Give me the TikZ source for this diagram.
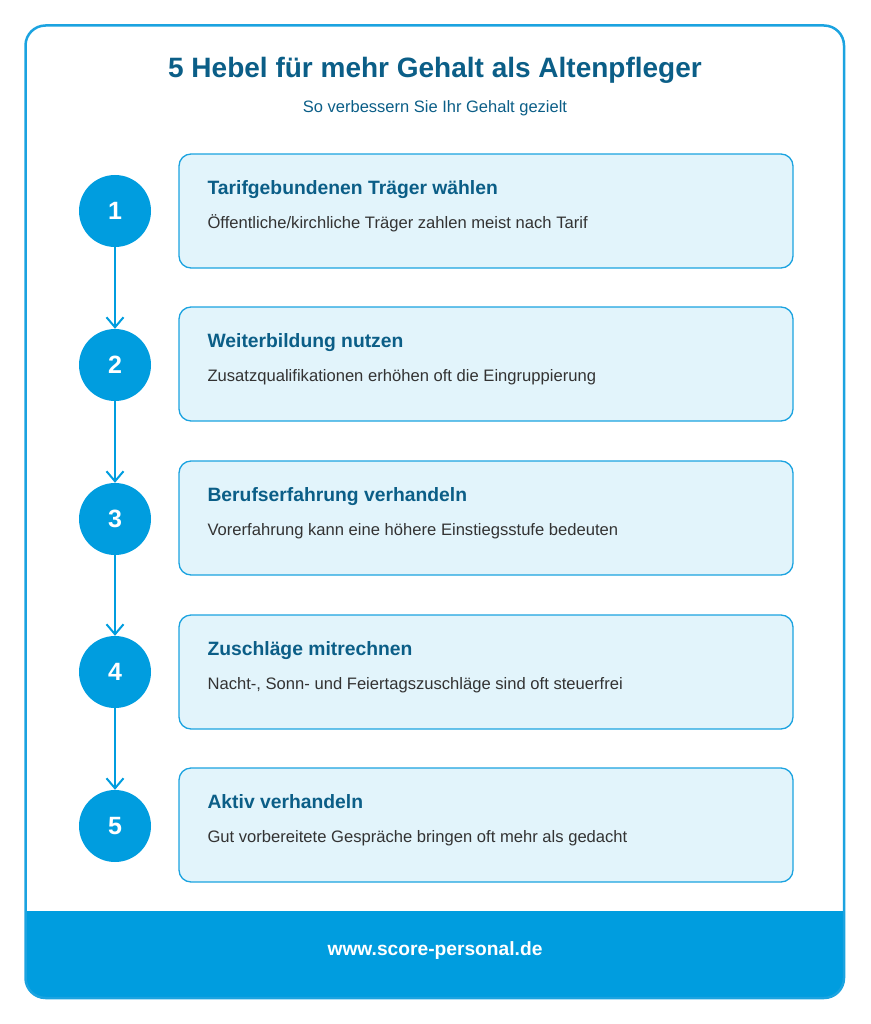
\documentclass[tikz,border=0pt]{standalone}
\usepackage{fontspec}
\setmainfont{Liberation Sans}
\usetikzlibrary{arrows.meta}

\definecolor{framecol}{HTML}{1BA3E0}
\definecolor{circcol}{HTML}{009DDF}
\definecolor{titlecol}{HTML}{0B5E87}
\definecolor{boxfill}{HTML}{E2F4FB}
\definecolor{desccol}{HTML}{333333}

\tikzset{
  numcirc/.style={circle, fill=circcol, minimum size=72pt, inner sep=0pt,
    text=white, font=\fontsize{25}{29}\selectfont\bfseries},
  levbox/.style={draw=framecol, line width=1.3pt, fill=boxfill, rounded corners=12pt,
    minimum width=614pt, minimum height=114pt, inner sep=0pt},
  levtitle/.style={anchor=base west, inner sep=0pt, text=titlecol,
    font=\fontsize{19.3}{23}\selectfont\bfseries},
  levdesc/.style={anchor=base west, inner sep=0pt, text=desccol,
    font=\fontsize{16.6}{20}\selectfont},
  steparrow/.style={draw=circcol, line width=2pt, -{Straight Barb[length=10pt,width=17pt]}}
}

\begin{document}
\begin{tikzpicture}[x=1pt, y=-1pt]
   \useasboundingbox (0,0) rectangle (870,1024);

   % footer band, cut from the frame shape
   \begin{scope}
     \clip (0,911) rectangle (870,1024);
     \fill[circcol, rounded corners=20pt] (25.5,25.5) rectangle (844,998);
   \end{scope}
   \draw[framecol, line width=2.5pt, rounded corners=20pt] (25.5,25.5) rectangle (844,998);

   \node[anchor=base, inner sep=0pt, text=titlecol, font=\fontsize{28}{32}\selectfont\bfseries] (title) at (435,77.5)
     {5 Hebel für mehr Gehalt als Altenpfleger};
   \node[anchor=base, inner sep=0pt, text=titlecol, font=\fontsize{16.5}{20}\selectfont] (subtitle) at (435,113)
     {So verbessern Sie Ihr Gehalt gezielt};

   % the five levers
   \node[numcirc] (c1) at (115,211) {1};
   \node[numcirc] (c2) at (115,365) {2};
   \node[numcirc] (c3) at (115,519) {3};
   \node[numcirc] (c4) at (115,672) {4};
   \node[numcirc] (c5) at (115,826) {5};

   \node[levbox] (b1) at (486,211) {};
   \node[levbox] (b2) at (486,364) {};
   \node[levbox] (b3) at (486,518) {};
   \node[levbox] (b4) at (486,672) {};
   \node[levbox] (b5) at (486,825) {};

   \node[levtitle] (t1) at ([xshift=29pt,yshift=-41.5pt]b1.north west) {Tarifgebundenen Träger wählen};
   \node[levdesc]  (d1) at ([xshift=29pt,yshift=-75pt]b1.north west) {Öffentliche/kirchliche Träger zahlen meist nach Tarif};
   \node[levtitle] (t2) at ([xshift=29pt,yshift=-41.5pt]b2.north west) {Weiterbildung nutzen};
   \node[levdesc]  (d2) at ([xshift=29pt,yshift=-75pt]b2.north west) {Zusatzqualifikationen erhöhen oft die Eingruppierung};
   \node[levtitle] (t3) at ([xshift=29pt,yshift=-41.5pt]b3.north west) {Berufserfahrung verhandeln};
   \node[levdesc]  (d3) at ([xshift=29pt,yshift=-75pt]b3.north west) {Vorerfahrung kann eine höhere Einstiegsstufe bedeuten};
   \node[levtitle] (t4) at ([xshift=29pt,yshift=-41.5pt]b4.north west) {Zuschläge mitrechnen};
   \node[levdesc]  (d4) at ([xshift=29pt,yshift=-75pt]b4.north west) {Nacht-, Sonn- und Feiertagszuschläge sind oft steuerfrei};
   \node[levtitle] (t5) at ([xshift=29pt,yshift=-41.5pt]b5.north west) {Aktiv verhandeln};
   \node[levdesc]  (d5) at ([xshift=29pt,yshift=-75pt]b5.north west) {Gut vorbereitete Gespräche bringen oft mehr als gedacht};

   \draw[steparrow] (c1) -- (c2);
   \draw[steparrow] (c2) -- (c3);
   \draw[steparrow] (c3) -- (c4);
   \draw[steparrow] (c4) -- (c5);

   \node[anchor=base, inner sep=0pt, text=white, font=\fontsize{19.2}{23}\selectfont\bfseries] (footer) at (435,955) {www.score-personal.de};
\end{tikzpicture}
\end{document}
